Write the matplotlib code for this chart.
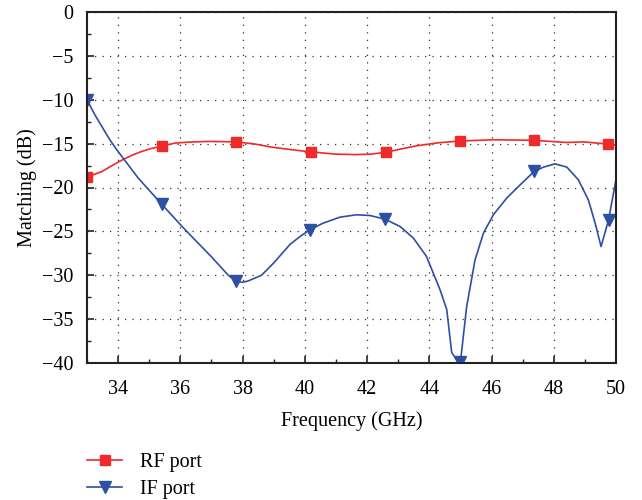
import matplotlib.pyplot as plt
from matplotlib.ticker import MultipleLocator

# RF port matching (dB) versus frequency (GHz)
rf_freq = [33.0, 33.47, 33.79, 34.11, 34.43, 34.75, 35.07, 35.4, 35.82, 36.3,
           36.9, 37.8, 38.4, 38.93, 39.6, 40.2, 41.0, 41.61, 42.1, 42.6,
           43.1, 43.59, 44.3, 45.0, 46.06, 47.35, 48.42, 48.95, 49.75, 50.0]
rf_db = [-18.8, -18.2, -17.53, -16.9, -16.35, -15.9, -15.55, -15.3, -14.94, -14.82,
         -14.75, -14.8, -15.05, -15.4, -15.7, -15.95, -16.2, -16.25, -16.2, -16.0,
         -15.6, -15.25, -14.9, -14.7, -14.56, -14.62, -14.87, -14.8, -15.05, -15.15]
rf_marks = [0, 7, 11, 15, 19, 23, 25, 28]

# IF port matching (dB) versus frequency (GHz)
if_freq = [33.0, 33.25, 33.47, 33.73, 34.0, 34.32, 34.64, 35.07, 35.4, 36.15,
           37.0, 37.54, 37.8, 38.0, 38.18, 38.61, 39.0, 39.52, 39.84, 40.16,
           40.59, 41.13, 41.66, 42.09, 42.57, 43.06, 43.49, 43.91, 44.34, 44.56,
           44.72, 44.85, 45.0, 45.2, 45.47, 45.74, 46.06, 46.49, 46.92, 47.37,
           47.67, 48.04, 48.42, 48.79, 49.11, 49.33, 49.52, 49.76, 50.0]
if_db = [-10.0, -11.7, -13.0, -14.55, -15.9, -17.4, -18.9, -20.6, -21.9, -24.8,
         -27.9, -30.0, -30.7, -30.8, -30.65, -30.0, -28.6, -26.5, -25.6, -24.82,
         -24.06, -23.38, -23.11, -23.19, -23.6, -24.44, -25.77, -27.86, -31.6, -33.9,
         -38.8, -39.5, -39.9, -33.6, -28.25, -25.2, -23.1, -21.2, -19.7, -18.17,
         -17.68, -17.3, -17.68, -19.12, -21.4, -24.06, -26.73, -23.7, -19.1]
if_marks = [0, 8, 12, 19, 24, 32, 39, 47]

x_ticks = [34, 36, 38, 40, 42, 44, 46, 48, 50]
y_ticks = [0, -5, -10, -15, -20, -25, -30, -35, -40]

plt.rcParams["font.family"] = ["Liberation Serif", "DejaVu Serif"]
plt.rcParams["font.size"] = 14.5

fig = plt.figure(figsize=(6.42, 5.0), dpi=100)
ax = fig.add_axes([87 / 642, 1 - 363 / 500, 529 / 642, 351 / 500])

ax.plot(rf_freq, rf_db, color="#ee2a2a", linewidth=1.2,
        marker="s", markersize=6.5, markevery=rf_marks, label="RF port")
ax.plot(if_freq, if_db, color="#2f4fa5", linewidth=1.2,
        marker="v", markersize=8, markevery=if_marks, label="IF port")

ax.set_xlim(33, 50)
ax.set_ylim(-40, 0)
ax.set_xticks(x_ticks)
ax.set_yticks(y_ticks)
ax.xaxis.set_minor_locator(MultipleLocator(1))
ax.yaxis.set_minor_locator(MultipleLocator(2.5))
ax.tick_params(which="both", direction="in", colors="#222222", labelcolor="black")
ax.tick_params(which="major", length=5, width=1.2)
ax.tick_params(which="minor", length=3, width=1.0)
ax.tick_params(axis="x", which="major", pad=12)
ax.tick_params(axis="y", which="major", pad=10)
ax.grid(which="major", color="#333333", linestyle=(0, (1, 5)), linewidth=0.9)

for sp in ax.spines.values():
    sp.set_linewidth(1.5)
    sp.set_color("#222222")

ax.set_xlabel("Frequency (GHz)", labelpad=9)
ax.set_ylabel("Matching (dB)", labelpad=3)

fig.legend(loc="upper left", bbox_to_anchor=(87 / 642, 1 - 453 / 500),
           frameon=False, borderpad=0, borderaxespad=0,
           handlelength=1.75, handletextpad=0.9, labelspacing=0.4)

fig.savefig("out.png", dpi=100)
